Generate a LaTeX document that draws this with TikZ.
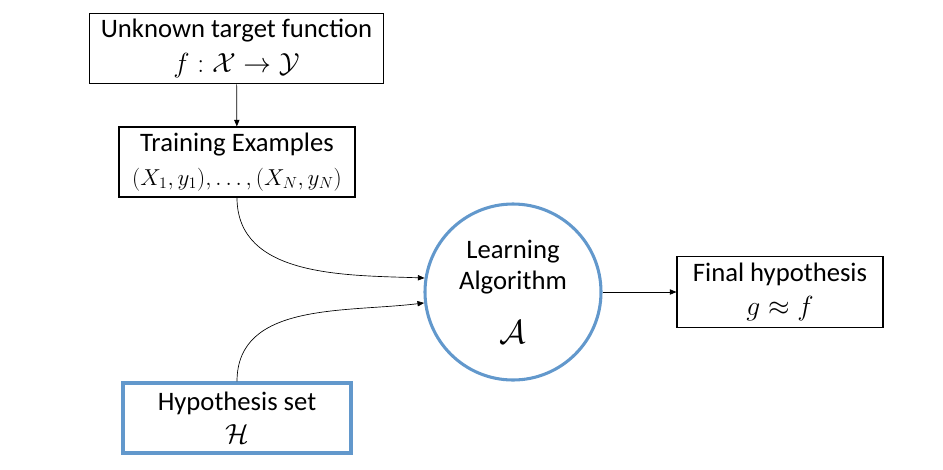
\documentclass[tikz,border=0pt]{standalone}
\usepackage{amsmath}
\usepackage{amssymb}
\usepackage{fontspec}
\setmainfont{Carlito}
\usepackage{tikz}
\usetikzlibrary{arrows.meta}
\usetikzlibrary{positioning}
\definecolor{boxblue}{RGB}{98,152,204}

\begin{document}
\begin{tikzpicture}[x=0.75pt,y=-0.75pt,
    font=\fontsize{20}{23}\selectfont,
    plainbox/.style={draw=black,line width=0.8pt,align=center,inner sep=2pt},
    bluebox/.style={draw=boxblue,line width=2.3pt,align=center,inner sep=2pt},
    flow/.style={-{Triangle[length=5pt,width=4pt]},line width=0.5pt}]
\useasboundingbox (0,0) rectangle (943,469);

% the boxes
\node[plainbox,minimum width=221pt,minimum height=53pt] (target) at (236.5,48.5)
    {Unknown target function\\[3pt] $f:\mathcal{X}\rightarrow\mathcal{Y}$};
\node[plainbox,minimum width=177pt,minimum height=52.5pt] (train) at (237,162)
    {Training Examples\\[2pt] {\fontsize{18}{22}\selectfont$(X_1,y_1),\ldots,(X_N,y_N)$}};
\node[bluebox,minimum width=171pt,minimum height=52.5pt] (hypset) at (237,418)
    {Hypothesis set\\[2pt] $\mathcal{H}$};
\node[draw=boxblue,line width=2.3pt,circle,minimum size=132pt,inner sep=0pt,align=center] (algo) at (513,292)
    {Learning\\ Algorithm\\[18pt] {\fontsize{30}{30}\selectfont$\mathcal{A}$}};
\node[plainbox,minimum width=154.5pt,minimum height=53pt] (final) at (780,292)
    {Final hypothesis\\[3pt] $g\approx f$};

% the arrows
\draw[flow] (target) -- (train);
\draw[flow] (train.south) to[out=-90,in=178] (algo.171);
\draw[flow] (hypset.north) to[out=90,in=187] (algo.187);
\draw[flow] (algo) -- (final);

\end{tikzpicture}
\end{document}
